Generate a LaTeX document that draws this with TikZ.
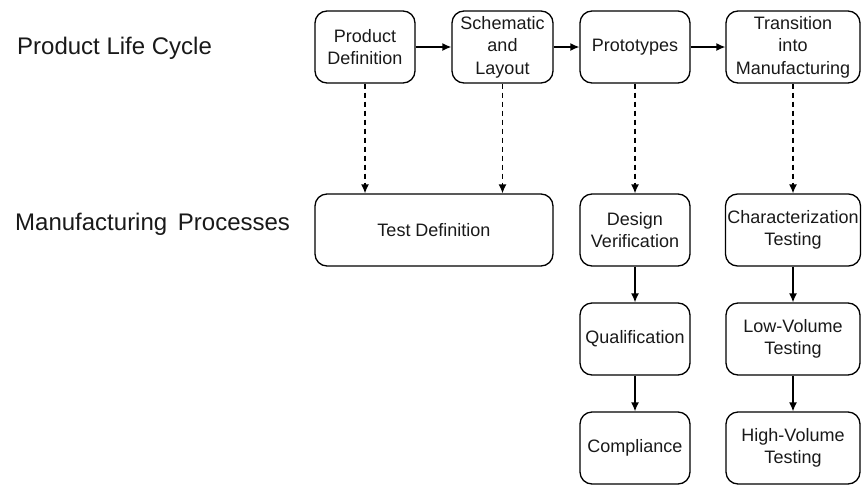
\documentclass[tikz,border=0pt]{standalone}
\usepackage{fontspec}
\setmainfont{Liberation Sans}
\usetikzlibrary{arrows.meta}
\begin{document}
\begin{tikzpicture}[x=1pt, y=-1pt,
  box/.style={draw, rounded corners=12pt, line width=1.3pt, align=center, inner sep=2pt,
    minimum height=72pt, font=\fontsize{18}{22.5}\selectfont, text=black!90},
  lbl/.style={anchor=west, inner sep=0pt, font=\fontsize{24}{27}\selectfont, text=black!90},
  flow/.style={-{Latex[length=9pt,width=8pt]}, line width=1.3pt},
  dflow/.style={flow, dash pattern=on 5pt off 4pt}]
  \useasboundingbox (0,0) rectangle (862,485);
  \node[lbl] (plc) at (17,48) {Product Life Cycle};
  \node[lbl] (mp) at (15,224) {Manufacturing\hspace{4pt} Processes};
  \node[box, minimum width=100pt] (pd) at (365,47) {Product\\Definition};
  \node[box, minimum width=101pt] (sl) at (502.5,47) {Schematic\\and\\Layout};
  \node[box, minimum width=110pt] (pr) at (635,47) {Prototypes};
  \node[box, minimum width=134pt] (tm) at (793,47) {Transition\\into\\Manufacturing};
  \node[box, minimum width=238pt] (td) at (434,230) {Test Definition};
  \node[box, minimum width=110pt] (dv) at (635,230) {Design\\Verification};
  \node[box, minimum width=134pt] (ct) at (793,230) {Characterization\\Testing};
  \node[box, minimum width=110pt] (qu) at (635,339) {Qualification};
  \node[box, minimum width=134pt] (lv) at (793,339) {Low-Volume\\Testing};
  \node[box, minimum width=110pt] (co) at (635,448) {Compliance};
  \node[box, minimum width=134pt] (hv) at (793,448) {High-Volume\\Testing};
  \draw[flow] (pd) -- (sl);
  \draw[flow] (sl) -- (pr);
  \draw[flow] (pr) -- (tm);
  \draw[dflow] (pd) -- (pd |- td.north);
  \draw[dflow] (sl) -- (sl |- td.north);
  \draw[dflow] (pr) -- (dv);
  \draw[dflow] (tm) -- (ct);
  \draw[flow] (dv) -- (qu);
  \draw[flow] (qu) -- (co);
  \draw[flow] (ct) -- (lv);
  \draw[flow] (lv) -- (hv);
\end{tikzpicture}
\end{document}
